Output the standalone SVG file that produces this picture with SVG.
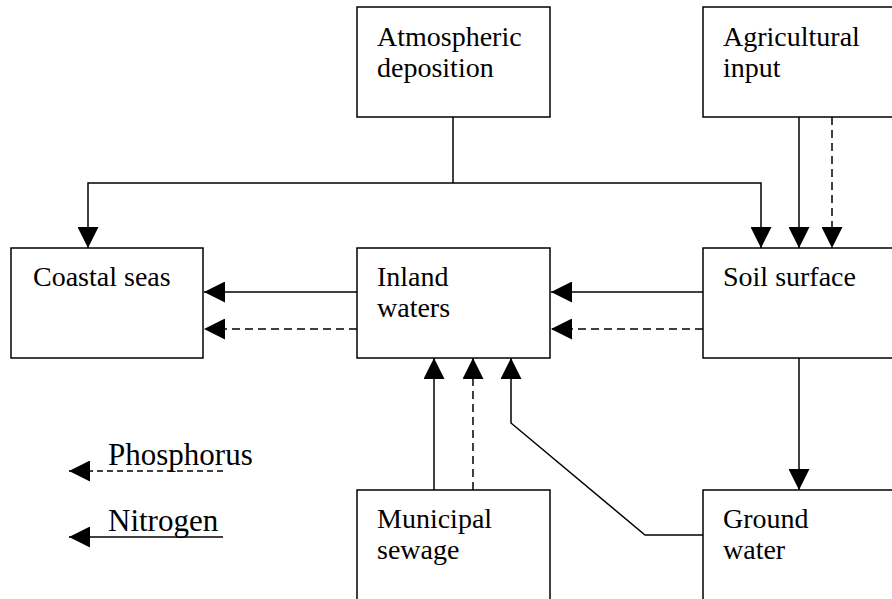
<svg xmlns="http://www.w3.org/2000/svg" width="892" height="599" viewBox="0 0 892 599">
  <defs>
    <marker id="arrow" markerUnits="userSpaceOnUse" markerWidth="21" markerHeight="21" refX="21" refY="10.5" orient="auto">
      <path d="M0,0 L21,10.5 L0,21 Z" fill="#000"/>
    </marker>
  </defs>
  <style>
    .box { fill: #fff; stroke: #000; stroke-width: 1.5; }
    .lbl { font-family: "Liberation Serif", "Times New Roman", serif; font-size: 28px; fill: #000; }
    .leg { font-family: "Liberation Serif", "Times New Roman", serif; font-size: 31px; fill: #000; }
    .n { fill: none; stroke: #000; stroke-width: 1.5; }
    .p { fill: none; stroke: #000; stroke-width: 1.5; stroke-dasharray: 8 5; }
    .arr { marker-end: url(#arrow); }
  </style>

  <rect width="892" height="599" fill="#fff"/>

  <!-- nodes -->
  <g id="atmospheric-deposition">
    <rect class="box" x="357" y="7" width="193" height="110"/>
    <text class="lbl" x="377" y="46">Atmospheric</text>
    <text class="lbl" x="377" y="77">deposition</text>
  </g>
  <g id="agricultural-input">
    <rect class="box" x="703" y="7" width="200" height="110"/>
    <text class="lbl" x="723" y="46">Agricultural</text>
    <text class="lbl" x="723" y="77">input</text>
  </g>
  <g id="coastal-seas">
    <rect class="box" x="11" y="248" width="192" height="110"/>
    <text class="lbl" x="33" y="286">Coastal seas</text>
  </g>
  <g id="inland-waters">
    <rect class="box" x="357" y="248" width="193" height="110"/>
    <text class="lbl" x="377" y="286">Inland</text>
    <text class="lbl" x="377" y="317">waters</text>
  </g>
  <g id="soil-surface">
    <rect class="box" x="703" y="248" width="200" height="110"/>
    <text class="lbl" x="723" y="286">Soil surface</text>
  </g>
  <g id="municipal-sewage">
    <rect class="box" x="357" y="490" width="193" height="120"/>
    <text class="lbl" x="377" y="528">Municipal</text>
    <text class="lbl" x="377" y="559">sewage</text>
  </g>
  <g id="ground-water">
    <rect class="box" x="703" y="490" width="200" height="120"/>
    <text class="lbl" x="723" y="528">Ground</text>
    <text class="lbl" x="723" y="559">water</text>
  </g>

  <!-- connectors -->
  <g id="connectors">
    <!-- atmospheric deposition splits to coast and soil -->
    <path class="n" d="M453,117 V183"/>
    <path class="n arr" d="M453,183 H88 V248"/>
    <path class="n arr" d="M453,183 H761 V248"/>
    <!-- agricultural input to soil -->
    <path class="n arr" d="M799,117 V248"/>
    <path class="p arr" d="M832,117 V248"/>
    <!-- soil surface to inland waters -->
    <path class="n arr" d="M703,292 H551"/>
    <path class="p arr" d="M703,329 H551"/>
    <!-- inland waters to coastal seas -->
    <path class="n arr" d="M357,292 H204"/>
    <path class="p arr" d="M357,329 H204"/>
    <!-- municipal sewage to inland waters -->
    <path class="n arr" d="M434,490 V358"/>
    <path class="p arr" d="M473,490 V358"/>
    <!-- ground water to inland waters -->
    <path class="n arr" d="M703,535 H645 L511,423 V358"/>
    <!-- soil surface to ground water -->
    <path class="n arr" d="M799,358 V490"/>
  </g>

  <!-- legend -->
  <g id="legend">
    <path class="n arr" d="M223,471 H69" style="stroke-dasharray: 6 4"/>
    <text class="leg" x="108" y="465">Phosphorus</text>
    <path class="n arr" d="M223,537 H69"/>
    <text class="leg" x="108" y="531">Nitrogen</text>
  </g>
</svg>
